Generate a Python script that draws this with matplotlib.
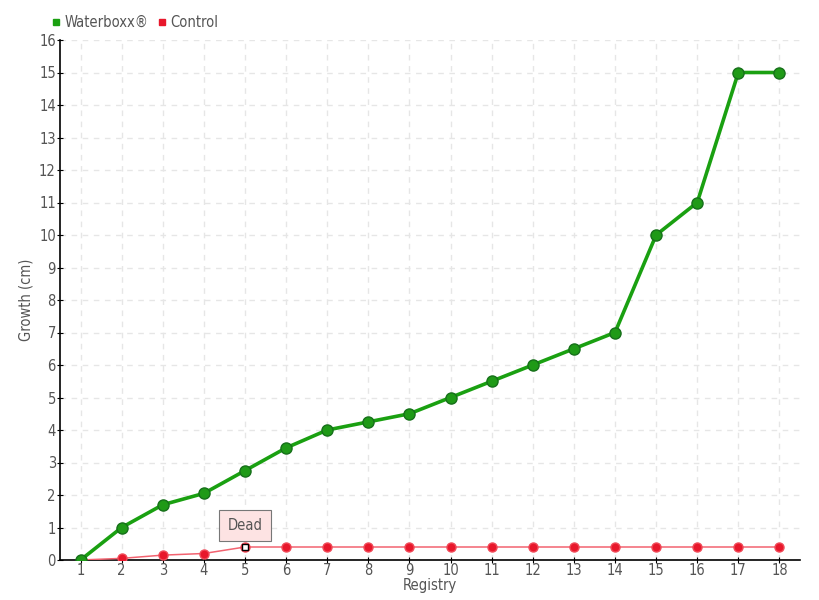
import matplotlib
matplotlib.use("Agg")
import matplotlib.pyplot as plt

registry = list(range(1, 19))
waterboxx = [0, 1, 1.7, 2.05, 2.75, 3.45, 4, 4.25, 4.5, 5, 5.5, 6, 6.5, 7, 10, 11, 15, 15]
control = [0, 0.05, 0.15, 0.2, 0.4, 0.4, 0.4, 0.4, 0.4, 0.4, 0.4, 0.4, 0.4, 0.4, 0.4, 0.4, 0.4, 0.4]
dead_index = 4

plt.rcParams['font.family'] = ['DejaVu Sans']
plt.rcParams['font.stretch'] = 'condensed'
text_col = "#555555"

fig = plt.figure(figsize=(8.2, 6), dpi=100)
ax = fig.add_axes([60/820, 40/600, 740/820, 520/600])

ax.plot(registry, waterboxx, color="#1aa011", lw=2.6, marker="o", ms=8,
        mfc="#1f9a17", mec="#16701a", mew=1, zorder=4, label="Waterboxx®")
ax.plot(registry, control, color="#f26370", lw=1.1, marker="o", ms=6.5,
        mfc="#e8172b", mec="#f04a58", mew=1, zorder=3, label="Control")
ax.plot(registry[dead_index], control[dead_index], marker="s", ms=4.5,
        mfc="white", mec="black", mew=1, zorder=5)

ax.annotate("Dead", xy=(registry[dead_index], control[dead_index]),
            xytext=(registry[dead_index], control[dead_index] + 0.65),
            ha="center", va="center", fontsize=10.5, color=text_col,
            bbox=dict(boxstyle="square,pad=0.55", fc="#fde3e3", ec="#777777", lw=0.8),
            zorder=6)

ax.set_xlim(0.5, 18.5)
ax.set_ylim(0, 16)
ax.set_xticks(registry)
ax.set_yticks(range(0, 17))
ax.grid(True, color="#e6e6e6", ls=(0, (4, 4)), lw=1)
ax.set_axisbelow(True)
for s in ["top", "right"]:
    ax.spines[s].set_visible(False)
ax.spines["left"].set_linewidth(1.2)
ax.spines["bottom"].set_linewidth(1.2)
ax.tick_params(axis="both", colors="black", labelcolor=text_col, labelsize=10.5,
               length=4, direction="inout", pad=1)
ax.tick_params(axis="x", pad=0)
ax.set_xlabel("Registry", color=text_col, fontsize=10.5, labelpad=0)
ax.set_ylabel("Growth (cm)", color=text_col, fontsize=10.5, labelpad=4)

leg = ax.legend(loc="lower left", bbox_to_anchor=(-0.025, 1.0), ncol=2, frameon=False,
                fontsize=10.5, handlelength=0.6, handletextpad=0.3, columnspacing=0.6,
                borderaxespad=0.3)
for h, c in zip(leg.legend_handles, ["#1aa011", "#e8172b"]):
    h.set_linestyle("None")
    h.set_marker("s")
    h.set_markersize(5)
    h.set_markerfacecolor(c)
    h.set_markeredgecolor(c)
for t in leg.get_texts():
    t.set_color(text_col)

fig.savefig("out.png", dpi=100)
